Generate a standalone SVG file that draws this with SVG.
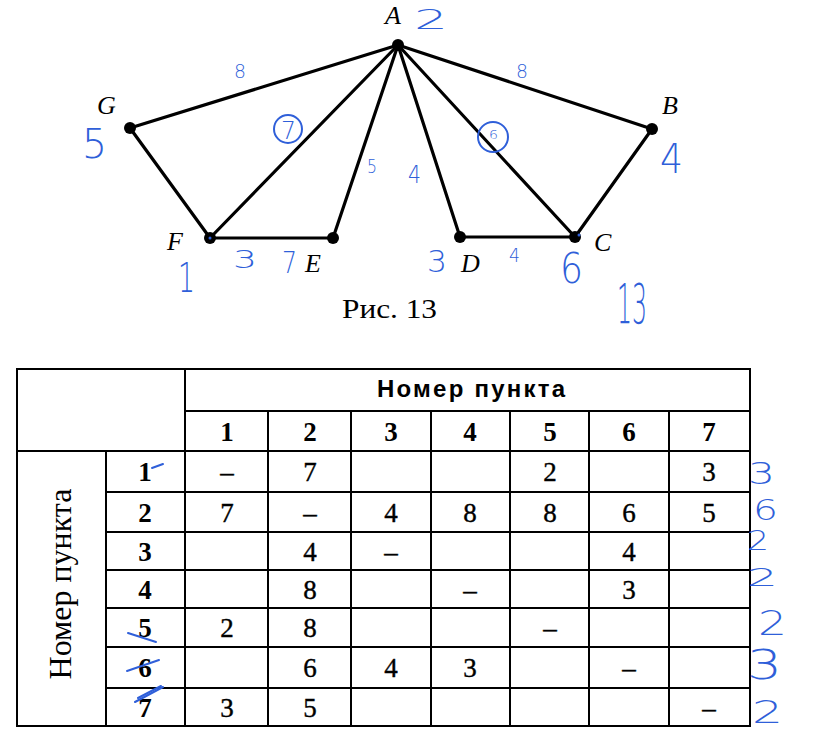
<svg xmlns="http://www.w3.org/2000/svg" width="825" height="751" viewBox="0 0 825 751">
<style>
.edge{stroke:#000;stroke-width:3.2;stroke-linecap:round}
.node{fill:#000}
.lbl{font-family:"Liberation Serif",serif;font-style:italic;font-size:26px;fill:#000}
.cap{font-family:"Liberation Serif",serif;font-size:28px;fill:#000}
.grid{stroke:#000;stroke-width:2;fill:none}
.hd{font-family:"Liberation Serif",serif;font-weight:bold;font-size:27px;text-anchor:middle;fill:#000}
.cv{font-family:"Liberation Serif",serif;font-size:27px;text-anchor:middle;fill:#000;stroke:#000;stroke-width:0.4}
.hw{font-family:"DejaVu Sans","Liberation Sans",sans-serif;font-weight:200;fill:#2f5fd9}
.hwl{stroke:#2f5fd9;stroke-width:2;fill:none;stroke-linecap:round}
</style>
<rect width="825" height="751" fill="#fff"/>

<g id="connectors">
<line class="edge" x1="398" y1="45" x2="130" y2="128"/>
<line class="edge" x1="398" y1="45" x2="210" y2="238"/>
<line class="edge" x1="398" y1="45" x2="333" y2="238"/>
<line class="edge" x1="398" y1="45" x2="460" y2="237"/>
<line class="edge" x1="398" y1="45" x2="575" y2="237"/>
<line class="edge" x1="398" y1="45" x2="652" y2="129"/>
<line class="edge" x1="130" y1="128" x2="210" y2="238"/>
<line class="edge" x1="210" y1="238" x2="333" y2="238"/>
<line class="edge" x1="460" y1="237" x2="575" y2="237"/>
<line class="edge" x1="575" y1="237" x2="652" y2="129"/>
</g>

<g id="node-A"><circle class="node" cx="398" cy="45" r="6"/><text class="lbl" x="385" y="24">A</text></g>
<g id="node-B"><circle class="node" cx="652" cy="129" r="6"/><text class="lbl" x="662" y="114">B</text></g>
<g id="node-C"><circle class="node" cx="575" cy="237" r="6"/><circle cx="579" cy="235" r="1.5" fill="#2f5fd9"/><text class="lbl" x="594" y="251">C</text></g>
<g id="node-D"><circle class="node" cx="460" cy="237" r="6"/><text class="lbl" x="461" y="272">D</text></g>
<g id="node-E"><circle class="node" cx="333" cy="238" r="6"/><text class="lbl" x="305" y="272">E</text></g>
<g id="node-F"><circle class="node" cx="210" cy="238" r="6"/><circle cx="210" cy="238" r="1.5" fill="#2f5fd9"/><text class="lbl" x="167" y="250">F</text></g>
<g id="node-G"><circle class="node" cx="130" cy="128" r="6"/><text class="lbl" x="97" y="114">G</text></g>

<text class="cap" x="342" y="318" textLength="95" lengthAdjust="spacingAndGlyphs">Рис. 13</text>

<g id="handwriting-graph">
<text class="hw" x="414" y="29" font-size="27" textLength="34" lengthAdjust="spacingAndGlyphs">2</text>
<text class="hw" x="234" y="78" font-size="20" textLength="12" lengthAdjust="spacingAndGlyphs">8</text>
<text class="hw" x="516" y="78" font-size="20" textLength="12" lengthAdjust="spacingAndGlyphs">8</text>
<text class="hw" x="82" y="158" font-size="40" textLength="25" lengthAdjust="spacingAndGlyphs">5</text>
<circle class="hwl" cx="288" cy="129" r="14"/>
<text class="hw" x="281" y="139" font-size="24" textLength="15" lengthAdjust="spacingAndGlyphs">7</text>
<circle class="hwl" cx="493" cy="137" r="15"/>
<text class="hw" x="489" y="139" font-size="13" textLength="9" lengthAdjust="spacingAndGlyphs">6</text>
<text class="hw" x="367" y="173" font-size="19" textLength="10" lengthAdjust="spacingAndGlyphs">5</text>
<text class="hw" x="408" y="183" font-size="24" textLength="13" lengthAdjust="spacingAndGlyphs">4</text>
<text class="hw" x="660" y="173" font-size="41" textLength="23" lengthAdjust="spacingAndGlyphs">4</text>
<text class="hw" x="178" y="292" font-size="41" textLength="17" lengthAdjust="spacingAndGlyphs">1</text>
<text class="hw" x="233" y="268" font-size="24" textLength="24" lengthAdjust="spacingAndGlyphs">3</text>
<text class="hw" x="282" y="273" font-size="31" textLength="15" lengthAdjust="spacingAndGlyphs">7</text>
<text class="hw" x="427" y="272" font-size="30" textLength="20" lengthAdjust="spacingAndGlyphs">3</text>
<text class="hw" x="509" y="262" font-size="19" textLength="11" lengthAdjust="spacingAndGlyphs">4</text>
<text class="hw" x="560" y="283" font-size="42" textLength="23" lengthAdjust="spacingAndGlyphs">6</text>
<text class="hw" x="617" y="323" font-size="56" textLength="30" lengthAdjust="spacingAndGlyphs">13</text>
</g>

<g id="table">
<rect class="grid" x="17" y="369" width="733" height="357"/>
<line class="grid" x1="185" y1="369" x2="185" y2="726"/>
<line class="grid" x1="185" y1="411" x2="750" y2="411"/>
<line class="grid" x1="17" y1="451" x2="750" y2="451"/>
<line class="grid" x1="106" y1="451" x2="106" y2="726"/>
<line class="grid" x1="106" y1="492" x2="750" y2="492"/>
<line class="grid" x1="106" y1="532" x2="750" y2="532"/>
<line class="grid" x1="106" y1="570" x2="750" y2="570"/>
<line class="grid" x1="106" y1="608" x2="750" y2="608"/>
<line class="grid" x1="106" y1="647" x2="750" y2="647"/>
<line class="grid" x1="106" y1="688" x2="750" y2="688"/>
<line class="grid" x1="268" y1="411" x2="268" y2="726"/>
<line class="grid" x1="351" y1="411" x2="351" y2="726"/>
<line class="grid" x1="431" y1="411" x2="431" y2="726"/>
<line class="grid" x1="510" y1="411" x2="510" y2="726"/>
<line class="grid" x1="589" y1="411" x2="589" y2="726"/>
<line class="grid" x1="669" y1="411" x2="669" y2="726"/>

<text x="377" y="397" font-family="Liberation Sans,Arial,sans-serif" font-weight="bold" font-size="24" textLength="188" lengthAdjust="spacing">Номер пункта</text>
<text transform="translate(71,584) rotate(-90)" font-family="Liberation Serif,serif" font-size="32" text-anchor="middle">Номер пункта</text>

<text class="hd" x="227" y="441">1</text>
<text class="hd" x="310" y="441">2</text>
<text class="hd" x="391" y="441">3</text>
<text class="hd" x="470" y="441">4</text>
<text class="hd" x="550" y="441">5</text>
<text class="hd" x="629" y="441">6</text>
<text class="hd" x="709" y="441">7</text>

<text class="hd" x="145" y="481">1</text>
<text class="hd" x="145" y="522">2</text>
<text class="hd" x="145" y="561">3</text>
<text class="hd" x="145" y="599">4</text>
<text class="hd" x="145" y="637">5</text>
<text class="hd" x="145" y="677">6</text>
<text class="hd" x="145" y="717">7</text>

<text class="cv" x="227" y="481">–</text><text class="cv" x="310" y="481">7</text><text class="cv" x="550" y="481">2</text><text class="cv" x="709" y="481">3</text>
<text class="cv" x="227" y="522">7</text><text class="cv" x="310" y="522">–</text><text class="cv" x="391" y="522">4</text><text class="cv" x="470" y="522">8</text><text class="cv" x="550" y="522">8</text><text class="cv" x="629" y="522">6</text><text class="cv" x="709" y="522">5</text>
<text class="cv" x="310" y="561">4</text><text class="cv" x="391" y="561">–</text><text class="cv" x="629" y="561">4</text>
<text class="cv" x="310" y="599">8</text><text class="cv" x="470" y="599">–</text><text class="cv" x="629" y="599">3</text>
<text class="cv" x="227" y="637">2</text><text class="cv" x="310" y="637">8</text><text class="cv" x="550" y="637">–</text>
<text class="cv" x="310" y="677">6</text><text class="cv" x="391" y="677">4</text><text class="cv" x="470" y="677">3</text><text class="cv" x="629" y="677">–</text>
<text class="cv" x="227" y="717">3</text><text class="cv" x="310" y="717">5</text><text class="cv" x="709" y="717">–</text>
</g>

<g id="handwriting-table">
<line class="hwl" x1="152" y1="468" x2="163" y2="464"/>
<line class="hwl" x1="128" y1="633" x2="156" y2="642"/>
<line class="hwl" x1="127" y1="671" x2="159" y2="660"/>
<line class="hwl" x1="135" y1="702" x2="163" y2="687"/>
<line class="hwl" x1="138" y1="698" x2="161" y2="686"/>
<text class="hw" x="748" y="484" font-size="30" textLength="27" lengthAdjust="spacingAndGlyphs">3</text>
<text class="hw" x="753" y="520" font-size="28" textLength="25" lengthAdjust="spacingAndGlyphs">6</text>
<text class="hw" x="747" y="550" font-size="26" textLength="22" lengthAdjust="spacingAndGlyphs">2</text>
<text class="hw" x="747" y="586" font-size="24" textLength="31" lengthAdjust="spacingAndGlyphs">2</text>
<text class="hw" x="758" y="635" font-size="33" textLength="29" lengthAdjust="spacingAndGlyphs">2</text>
<text class="hw" x="747" y="679" font-size="40" textLength="35" lengthAdjust="spacingAndGlyphs">3</text>
<text class="hw" x="752" y="723" font-size="32" textLength="31" lengthAdjust="spacingAndGlyphs">2</text>
</g>
</svg>
